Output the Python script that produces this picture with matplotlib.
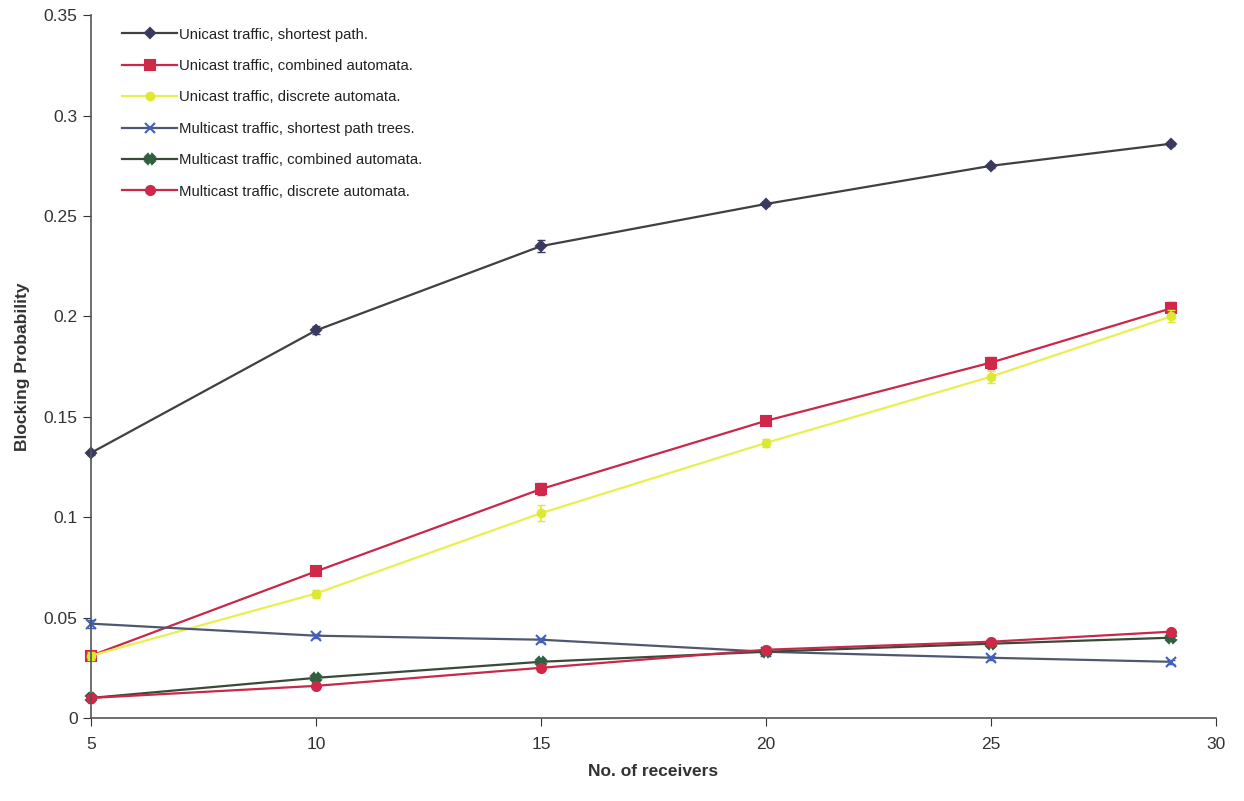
import matplotlib
matplotlib.use("Agg")
import matplotlib.pyplot as plt
from matplotlib.ticker import FormatStrFormatter, MultipleLocator

plt.rcParams['font.family'] = ['Liberation Sans', 'DejaVu Sans']

receivers = [5, 10, 15, 20, 25, 29]

uni_shortest = [0.132, 0.193, 0.235, 0.256, 0.275, 0.286]
uni_combined = [0.031, 0.073, 0.114, 0.148, 0.177, 0.204]
uni_discrete = [0.031, 0.062, 0.102, 0.137, 0.170, 0.200]
multi_shortest = [0.047, 0.041, 0.039, 0.033, 0.030, 0.028]
multi_combined = [0.010, 0.020, 0.028, 0.033, 0.037, 0.040]
multi_discrete = [0.010, 0.016, 0.025, 0.034, 0.038, 0.043]

uni_shortest_err = [0.001, 0.002, 0.003, 0.001, 0.001, 0.001]
uni_combined_err = [0.002, 0.002, 0.003, 0.001, 0.003, 0.003]
uni_discrete_err = [0.002, 0.002, 0.004, 0.002, 0.003, 0.003]
multi_shortest_err = [0.002, 0.001, 0.001, 0.001, 0.001, 0.001]
multi_combined_err = [0.001, 0.001, 0.001, 0.001, 0.001, 0.001]
multi_discrete_err = [0.001, 0.001, 0.001, 0.001, 0.001, 0.001]

labels = [
    "Unicast traffic, shortest path.",
    "Unicast traffic, combined automata.",
    "Unicast traffic, discrete automata.",
    "Multicast traffic, shortest path trees.",
    "Multicast traffic, combined automata.",
    "Multicast traffic, discrete automata.",
]

fig = plt.figure(figsize=(12.44, 8.01), dpi=100)
ax = fig.add_axes([0.073, 0.1036, 0.9045, 0.8774])

styles = [
    (uni_shortest, uni_shortest_err, '#404040', 'D', '#3a3a60', 5),
    (uni_combined, uni_combined_err, '#c8284a', 's', '#d02848', 6.5),
    (uni_discrete, uni_discrete_err, '#e8f050', 'o', '#dde830', 5.5),
    (multi_shortest, multi_shortest_err, '#505870', 'x', '#4060c0', 6.5),
    (multi_combined, multi_combined_err, '#3a4a3a', 'X', '#2f6040', 6.5),
    (multi_discrete, multi_discrete_err, '#c8284a', 'o', '#d02848', 6.5),
]

for (vals, err, lc, mk, mc, ms), lab in zip(styles, labels):
    eb = ax.errorbar(receivers, vals, yerr=err, fmt='none', ecolor=mc,
                     capsize=3, elinewidth=1.2)
    for c in eb.get_children():
        c.set_clip_on(False)
    ax.plot(receivers, vals, color=lc, marker=mk, markersize=ms,
            markerfacecolor=mc, markeredgecolor=mc, markeredgewidth=1.5,
            linewidth=1.6, label=lab, clip_on=False)

ax.set_xlim(5, 30)
ax.set_ylim(0, 0.35)
ax.xaxis.set_major_locator(MultipleLocator(5))
ax.yaxis.set_major_locator(MultipleLocator(0.05))
ax.yaxis.set_major_formatter(FormatStrFormatter('%g'))
for s in ['top', 'right']:
    ax.spines[s].set_visible(False)
for s in ['left', 'bottom']:
    ax.spines[s].set_color('#555555')
    ax.spines[s].set_linewidth(1.2)
ax.tick_params(axis='both', labelsize=12.5, colors='#333333', direction='out', length=6)
ax.tick_params(axis='x', pad=8)

ax.set_xlabel("No. of receivers", fontsize=12.5, fontweight='bold', color='#333333', labelpad=8)
ax.set_ylabel("Blocking Probability", fontsize=12.5, fontweight='bold', color='#333333', labelpad=10)

leg = ax.legend(loc='upper left', bbox_to_anchor=(0.02, 0.995), frameon=False,
                fontsize=10.7, handlelength=3.7, handletextpad=0.15,
                labelspacing=1.17, borderaxespad=0.2)
for t in leg.get_texts():
    t.set_color('#222222')

fig.savefig("out.png", dpi=100)
